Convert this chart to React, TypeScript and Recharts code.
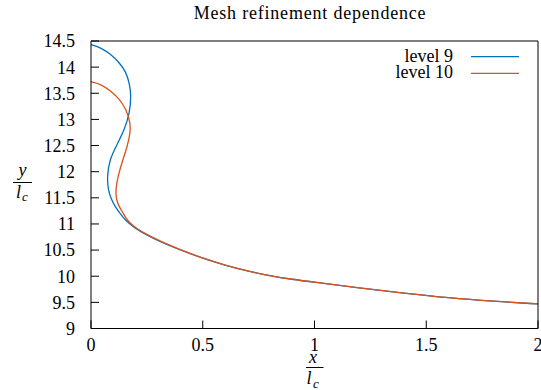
import React from 'react';
import { LineChart, Line, XAxis, YAxis } from 'recharts';

// ---- data ----
const xTicks = [0, 0.5, 1, 1.5, 2];
const yTicks = [9, 9.5, 10, 10.5, 11, 11.5, 12, 12.5, 13, 13.5, 14, 14.5];

const level9X = [0, 0.045, 0.09, 0.128, 0.155, 0.172, 0.18, 0.173, 0.151, 0.113, 0.084, 0.072, 0.076, 0.091, 0.106, 0.13, 0.155, 0.197, 0.25, 0.3, 0.4, 0.5, 0.6, 0.7, 0.8, 0.9, 1.0, 1.2, 1.4, 1.6, 1.8, 2.0];
const level9Y = [14.43, 14.37, 14.24, 14.08, 13.92, 13.7, 13.45, 13.13, 12.81, 12.49, 12.24, 11.92, 11.66, 11.47, 11.345, 11.2, 11.06, 10.92, 10.785, 10.68, 10.5, 10.343, 10.21, 10.1, 10.01, 9.94, 9.885, 9.775, 9.675, 9.585, 9.52, 9.47];

const level10X = [0, 0.046, 0.091, 0.128, 0.158, 0.176, 0.176, 0.163, 0.143, 0.121, 0.11, 0.113, 0.124, 0.145, 0.165, 0.212, 0.25, 0.3, 0.4, 0.5, 0.6, 0.7, 0.8, 0.9, 1.0, 1.2, 1.4, 1.6, 1.8, 2.0];
const level10Y = [13.72, 13.67, 13.54, 13.385, 13.19, 12.94, 12.75, 12.49, 12.24, 11.92, 11.66, 11.47, 11.345, 11.2, 11.04, 10.89, 10.8, 10.69, 10.505, 10.345, 10.21, 10.1, 10.01, 9.94, 9.885, 9.775, 9.675, 9.585, 9.52, 9.47];

const seriesNames = ['level 9', 'level 10'];
const seriesColors = ['#0072bd', '#d95319'];

const toPoints = (xs: number[], ys: number[]) => xs.map((x, i) => ({ x, y: ys[i] }));

const W = 541;
const H = 390;
const FONT = '"Liberation Serif", "Times New Roman", serif';

export default function App() {
  const series = [toPoints(level9X, level9Y), toPoints(level10X, level10Y)];
  const tickStyle = { fill: '#000', fontSize: 18, fontFamily: FONT };
  const txt = { fontFamily: FONT };
  return (
    <div style={{ position: 'absolute', left: 0, top: 0, width: W, height: H, background: '#fff' }}>
      <LineChart width={W} height={H} margin={{ top: 40, right: 2, bottom: 0, left: 0 }}>
        <XAxis
          xAxisId="b"
          type="number"
          dataKey="x"
          orientation="bottom"
          domain={[0, 2]}
          ticks={xTicks}
          interval={0}
          allowDataOverflow
          height={61.5}
          tickSize={-8}
          tickMargin={18}
          stroke="#000"
          tick={tickStyle}
        />
        <XAxis
          xAxisId="t"
          type="number"
          dataKey="x"
          orientation="top"
          domain={[0, 2]}
          ticks={xTicks}
          interval={0}
          allowDataOverflow
          height={1}
          tickSize={-8}
          stroke="#000"
          tick={false}
        />
        <YAxis
          yAxisId="l"
          type="number"
          orientation="left"
          domain={[9, 14.5]}
          ticks={yTicks}
          interval={0}
          allowDataOverflow
          width={91}
          tickSize={-8}
          tickMargin={24}
          stroke="#000"
          tick={tickStyle}
        />
        <YAxis
          yAxisId="r"
          type="number"
          orientation="right"
          domain={[9, 14.5]}
          ticks={yTicks}
          interval={0}
          allowDataOverflow
          width={1}
          tickSize={-8}
          stroke="#000"
          tick={false}
        />
        {series.map((d, i) => (
          <Line
            key={seriesNames[i]}
            name={seriesNames[i]}
            data={d}
            xAxisId="b"
            yAxisId="l"
            dataKey="y"
            type="basis"
            stroke={seriesColors[i]}
            strokeWidth={1.3}
            dot={false}
            activeDot={false}
            isAnimationActive={false}
          />
        ))}
      </LineChart>
      <svg
        width={W}
        height={H}
        style={{ position: 'absolute', left: 0, top: 0, pointerEvents: 'none' }}
      >
        <text x={310} y={18.5} textAnchor="middle" fontSize={18} letterSpacing={0.8} fill="#000" style={txt}>
          Mesh refinement dependence
        </text>
        {seriesNames.map((n, i) => (
          <g key={n}>
            <text x={453} y={61.5 + i * 16.7} textAnchor="end" fontSize={18} fill="#000" style={txt}>
              {n}
            </text>
            <line x1={471} x2={519} y1={56.7 + i * 16.6} y2={56.7 + i * 16.6} stroke={seriesColors[i]} strokeWidth={1.3} />
          </g>
        ))}
        {/* y label */}
        <text x={22.5} y={176} textAnchor="middle" fontSize={18} fontStyle="italic" fill="#000" style={txt}>y</text>
        <line x1={13} x2={32} y1={182.5} y2={182.5} stroke="#000" strokeWidth={1} />
        <text x={18.5} y={198} textAnchor="middle" fontSize={18} fontStyle="italic" fill="#000" style={txt}>l</text>
        <text x={25} y={200.5} textAnchor="middle" fontSize={13} fontStyle="italic" fill="#000" style={txt}>c</text>
        {/* x label */}
        <text x={313} y={363} textAnchor="middle" fontSize={18} fontStyle="italic" fill="#000" style={txt}>x</text>
        <line x1={306} x2={323.5} y1={367.5} y2={367.5} stroke="#000" strokeWidth={1} />
        <text x={309} y={383.5} textAnchor="middle" fontSize={18} fontStyle="italic" fill="#000" style={txt}>l</text>
        <text x={316} y={388} textAnchor="middle" fontSize={13} fontStyle="italic" fill="#000" style={txt}>c</text>
      </svg>
    </div>
  );
}
